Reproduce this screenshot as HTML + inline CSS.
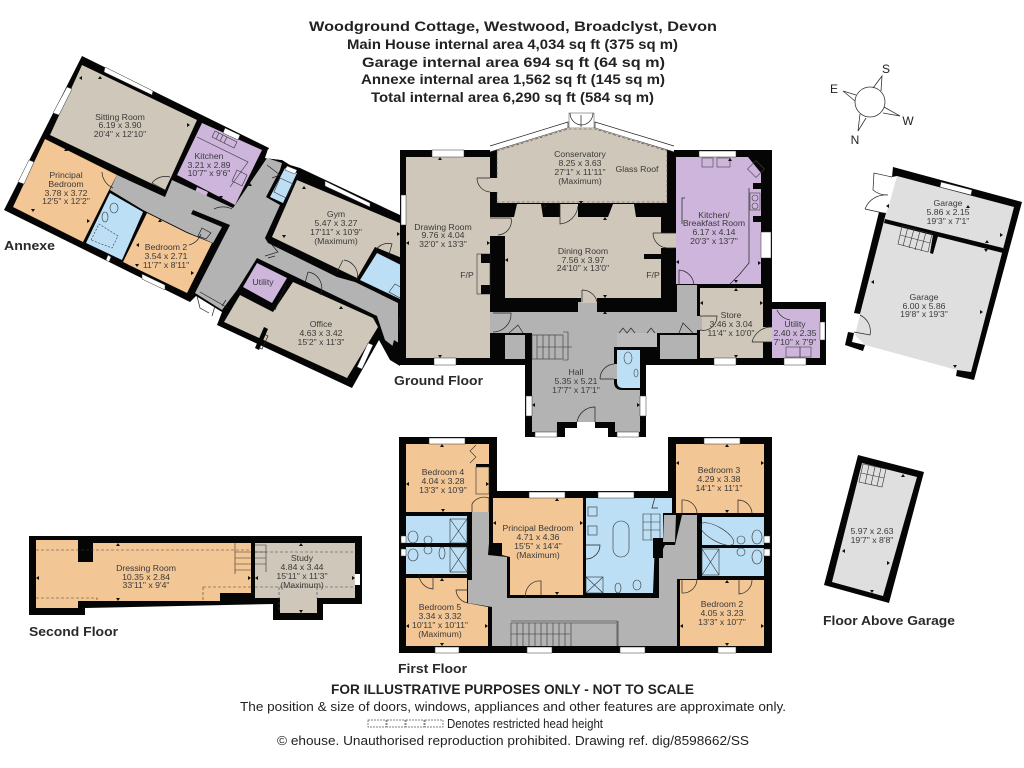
<!DOCTYPE html>
<html><head><meta charset="utf-8"><title>Woodground Cottage floor plan</title>
<style>
html,body{margin:0;padding:0;background:#fff;width:1024px;height:768px;overflow:hidden}
svg{display:block;font-family:"Liberation Sans",sans-serif}
.h{font-weight:bold;font-size:14px;fill:#222}
.l{font-size:13px;fill:#222}
.f{font-weight:bold;font-size:13px;fill:#2a2a2a}
.r text{font-size:8.7px;fill:#3a3a3a;text-anchor:middle}
.d{fill:none;stroke:#222;stroke-width:.7}
.w{fill:#fff;stroke:#333;stroke-width:.5}
.dash{fill:none;stroke:#444;stroke-width:.6;stroke-dasharray:3 2}
.tan{fill:#cfc7b9}.or{fill:#f2c695}.pu{fill:#cdb5dc}.bl{fill:#bcdff5}.gr{fill:#b3b3b3}.ga{fill:#dfdfdf}
</style></head><body>
<svg width="1024" height="768" viewBox="0 0 1024 768" xmlns="http://www.w3.org/2000/svg">
<rect width="1024" height="768" fill="#fff"/>

<!-- headings -->
<text class="h" x="309" y="31" textLength="408" lengthAdjust="spacingAndGlyphs">Woodground Cottage, Westwood, Broadclyst, Devon</text>
<text class="h" x="347" y="49" textLength="331" lengthAdjust="spacingAndGlyphs">Main House internal area 4,034 sq ft (375 sq m)</text>
<text class="h" x="362" y="67" textLength="303" lengthAdjust="spacingAndGlyphs">Garage internal area 694 sq ft (64 sq m)</text>
<text class="h" x="361" y="84" textLength="304" lengthAdjust="spacingAndGlyphs">Annexe internal area 1,562 sq ft (145 sq m)</text>
<text class="h" x="371" y="102" textLength="283" lengthAdjust="spacingAndGlyphs">Total internal area 6,290 sq ft (584 sq m)</text>

<!-- compass -->
<g fill="none" stroke="#333" stroke-width=".8">
<circle cx="870" cy="102" r="15"/>
<path d="M873 88L882 76L881 91M856 95L843 91L855 101M884 107L900 116L883 113M860 114L858 131L866 118"/>
</g>
<g font-size="12" fill="#222" text-anchor="middle"><text x="886" y="73">S</text><text x="834" y="93">E</text><text x="908" y="125">W</text><text x="855" y="144">N</text></g>

<!-- ANNEXE -->
<polygon fill="#050505" points="82,56 269,148 265,158 282,160 290,165 300,168 400,215 400,366 390,360 379,340 352,388 217,325 222,312 196,296 190,302 4,210"/>
<polygon class="tan" points="82,65 197,120 172,175 165,190 50,135"/>
<polygon class="or" points="45,139 117,175 108,192 83,242 13,207"/>
<polygon class="bl" points="110,193 143,212 122,260 86,243"/>
<polygon class="or" points="147,213 187,233 212,243 187,293 123,262"/>
<polygon class="pu" points="202,123 262,150 235,205 177,175"/>
<polygon class="pu" points="197,187 208,192 205,200 194,195"/>
<polygon class="gr" points="117,175 165,197 172,180 233,208 267,158 282,163 280,170 266,197 280,205 265,238 268,243 337,277 355,282 398,303 398,350 385,340 377,316 257,258 237,290 222,310 195,293 230,225 193,210 191,214 222,227 213,243 187,232 143,210 110,190"/>
<polygon fill="#fff" points="268,149 282,160 265,158"/>
<polygon class="bl" points="285,168 297,173 283,203 270,197"/>
<polygon class="tan" points="297,180 402,224 402,258 375,247 357,278 272,237"/>
<polygon class="bl" points="377,253 403,266 402,300 360,280"/>
<polygon class="pu" points="257,263 287,278 272,303 243,287"/>
<polygon class="tan" points="240,295 273,312 293,282 373,318 378,327 347,378 224,322"/>
<g class="w">
<polygon points="105,67 153,91 152,95 104,72"/>
<polygon points="67,87 72,89 59,115 53,113"/>
<polygon points="225,128 240,135 238,140 223,133"/>
<polygon points="29,160 34,162 24,184 18,182"/>
<polygon points="142,274 165,285 165,290 142,279"/>
<polygon points="108,255 111,257 109,262 106,260"/>
<polygon points="325,181 370,203 370,207 325,186"/>
<polygon points="368,343 373,345 362,369 357,367"/>
<polygon points="287,166 297,170 295,174 285,170"/>
<rect x="400" y="318" width="6" height="13"/>
</g>
<path class="d" d="M102 172A18 18 0 0 0 113 188M152 183A17 17 0 0 1 170 177M152 183L165 190M201 234A18 18 0 0 1 189 245M214 209A20 20 0 0 1 232 209M344 260A16 16 0 0 1 357 280M343 260L337 272M308 272A16 16 0 0 1 320 295M308 272L305 283M265 256L278 252L272 245M268 258L275 256M267 165L280 175L272 178M197 296L200 308L209 313M215 306L212 316M202 228L211 233L206 239L198 236ZM200 292L228 308M226 300L222 306"/>
<path class="d" d="M286 284L275 310M262 333L268 336L262 349L256 346M376 250A14 14 0 0 1 392 244L388 258M406 318A14 14 0 0 1 418 331H406"/>
<g fill="none" stroke="#333" stroke-width=".6"><polygon points="91,240 99,224 118,236 112,248" stroke-dasharray="2 1.5"/><ellipse cx="114" cy="208" rx="4" ry="5"/><ellipse cx="105" cy="217" rx="3" ry="5"/><path d="M215 131L237 142L234 148L212 137ZM219 133L216 139M223 135L220 141M227 137L224 143"/><path d="M197 137L248 162L230 187M237 170L247 175L242 186L232 181Z"/><path d="M280 178L293 184L286 198L274 192Z"/><path d="M395 284L402 288L400 298L389 292Z"/></g>
<polygon fill="#050505" points="264,327 268,329 259,350 255,348"/>
<polygon fill="#050505" points="394,340 402,345 398,356 391,352"/>

<!-- GROUND FLOOR main -->
<polygon fill="#050505" points="400,150 490,150 490,146 674,146 674,150 772,150 772,302 826,302 826,365 646,365 646,437 608,437 608,428 565,428 565,437 525,437 525,365 400,365"/>
<rect x="577" y="422" width="18" height="6" fill="#fff"/>
<polygon fill="#fff" points="490,146 497,143 568,120 595,120 668,143 674,146 674,152 668,150 595,128 568,128 497,150 490,152"/>
<polyline class="d" points="490,146 568,122 568,128 490,152"/>
<polyline class="d" points="674,146 595,122 595,128 674,152"/>
<rect x="569" y="113" width="25" height="15" fill="#fff" stroke="#444" stroke-width=".5"/>
<path class="d" d="M570 113A12 12 0 0 0 581 125A12 12 0 0 0 593 113M581 115V127"/>
<polygon class="tan" points="497,150 568,128 595,128 667,150 667,203 497,203"/>
<path class="dash" d="M497 151L568 129H595L667 151V202H497Z"/>
<rect class="tan" x="406" y="157" width="84" height="201"/>
<rect class="tan" x="490" y="178" width="8" height="14"/>
<polygon class="tan" points="505,217 514,217 517,204 541,204 543,217 560,217 560,204 578,204 578,217 608,217 613,204 634,204 636,217 661,217 661,298 505,298"/>
<rect class="tan" x="644" y="259" width="17" height="32"/>
<rect fill="#050505" x="644" y="254" width="17" height="5"/>
<rect class="tan" x="490" y="217" width="16" height="19"/>
<rect class="tan" x="661" y="233" width="15" height="15"/>
<rect x="477" y="254" width="13" height="40" fill="none" stroke="#333" stroke-width=".6"/>
<rect fill="#050505" x="481" y="254" width="9" height="9"/>
<rect fill="#050505" x="481" y="285" width="9" height="9"/>
<polygon class="pu" points="676,157 748,157 761,173 761,284 676,284"/>
<rect class="tan" x="700" y="288" width="63" height="70"/>
<rect class="tan" x="763" y="327" width="9" height="15"/>
<rect class="pu" x="772" y="309" width="48" height="49"/>
<!-- corridor + hall -->
<polygon class="gr" points="490,312 677,312 677,285 697,285 697,333 490,333"/>
<rect class="gr" x="697" y="316" width="5" height="14"/>
<rect class="gr" x="578" y="302" width="19" height="10"/>
<rect class="tan" x="581" y="298" width="16" height="5"/>
<rect class="gr" x="505" y="335" width="20" height="24"/>
<rect class="gr" x="660" y="335" width="37" height="24"/>
<polygon class="gr" points="532,333 640,333 640,432 615,432 615,422 595,422 557,422 557,432 532,432"/>
<rect x="617" y="333" width="40" height="14" fill="#bcbcbc"/>
<path d="M614 347H646V390H622Q614 390 614 382Z" fill="#050505"/>
<path d="M617 350H640V388H623Q617 388 617 382Z" fill="#bcdff5"/>
<rect class="gr" x="614" y="364" width="3" height="15"/>
<rect fill="#050505" x="657" y="333" width="3" height="26"/>
<path class="d" d="M477 178H490M477 178A14 14 0 0 0 490 192M490 218H511A14 14 0 0 1 498 235M560 204V224A20 20 0 0 0 578 206M653 233H676M653 233A15 15 0 0 0 667 248H676M679 270V285M679 270A16 16 0 0 1 694 285M582 290V302M582 290A15 15 0 0 1 597 302M493 313H511A18 18 0 0 1 493 332M509 333L518 325L523 333M619 333L623 328L627 333L631 328L635 333M647 333L651 328L655 333M679 333L683 323L693 333M700 316H717A14 14 0 0 1 700 330M752 342H772M752 342A20 20 0 0 1 772 327M600 379H614M600 379A15 15 0 0 1 614 364M577 422A18 18 0 0 1 595 407V422M685 198H682V224M749 188V263L739 275L730 284M777 310A18 18 0 0 0 790 320"/>
<!-- hall stair -->
<g fill="none" stroke="#333" stroke-width=".6">
<rect x="532" y="335" width="31" height="24"/>
<path d="M537 335V359M543 335V359M549 335V359M555 335V359M563 332H568V360H563M537 347H572"/>
</g>
<g class="w">
<rect x="432" y="150" width="32" height="7"/><rect x="401" y="195" width="5" height="30"/>
<rect x="434" y="358" width="22" height="7"/>
<rect x="699" y="151" width="37" height="6"/><rect x="761" y="232" width="10" height="26"/>
<rect x="714" y="358" width="22" height="7"/><rect x="784" y="358" width="22" height="7"/>
<rect x="820" y="322" width="5" height="18"/><rect x="526" y="396" width="6" height="20"/>
<rect x="640" y="396" width="6" height="20"/><rect x="535" y="432" width="22" height="5"/>
<rect x="617" y="432" width="22" height="5"/>
</g>
<!-- fixtures -->
<g fill="none" stroke="#444" stroke-width=".6">
<rect x="702" y="158" width="11" height="9"/><rect x="717" y="158" width="13" height="9"/>
<rect x="750" y="163" width="12" height="12" transform="rotate(45 756 169)"/><rect x="750" y="193" width="10" height="17"/>
<circle cx="755" cy="198" r="3"/><circle cx="755" cy="206" r="3"/>
<rect x="786" y="347" width="14" height="10"/><rect x="800" y="347" width="11" height="10"/>
<ellipse cx="628" cy="358" rx="4" ry="6"/><ellipse cx="636" cy="373" rx="2" ry="4"/>
</g>
<rect fill="#050505" x="753" y="183" width="8" height="6"/><rect fill="#050505" x="753" y="216" width="8" height="6"/>

<!-- FIRST FLOOR -->
<polygon fill="#050505" points="399,437 497,437 497,491 668,491 668,437 772,437 772,653 399,653"/>
<rect class="or" x="406" y="444" width="83" height="68"/>
<rect fill="#050505" x="476" y="464" width="13" height="3"/>
<rect class="bl" x="406" y="516" width="61" height="27"/>
<rect class="bl" x="406" y="547" width="61" height="27"/>
<polygon class="or" points="406,578 467,578 467,603 488,607 488,646 406,646"/>
<polygon class="gr" points="472,512 489,512 489,543 488,555 507,557 507,598 659,598 659,557 665,545 675,545 682,515 697,515 697,579 677,579 677,646 492,646 492,607 468,603 468,580 472,580"/>
<polygon class="or" points="493,498 583,498 583,595 510,595 510,557 502,555 502,543 493,543"/>
<polygon class="bl" points="586,498 672,498 672,513 663,513 663,542 655,542 653,593 586,593"/>
<rect class="or" x="676" y="444" width="88" height="69"/>
<rect class="or" x="680" y="580" width="84" height="66"/>
<rect class="bl" x="702" y="517" width="62" height="28"/>
<rect class="bl" x="702" y="548" width="62" height="28"/>
<polygon class="gr" points="664,515 676,515 675,542 663,542"/>
<g class="w">
<rect x="429" y="438" width="36" height="6"/><rect x="529" y="492" width="36" height="6"/>
<rect x="598" y="492" width="36" height="6"/><rect x="704" y="438" width="36" height="6"/>
<rect x="435" y="647" width="24" height="6"/><rect x="527" y="647" width="25" height="6"/>
<rect x="620" y="647" width="25" height="6"/><rect x="718" y="647" width="18" height="6"/>
<rect x="401" y="536" width="5" height="7"/><rect x="401" y="549" width="5" height="7"/>
<rect x="764" y="536" width="6" height="7"/><rect x="764" y="549" width="6" height="7"/>
</g>
<g fill="none" stroke="#333" stroke-width=".6">
<rect x="476" y="467" width="13" height="27"/><path d="M476 445L470 451L476 457L470 463"/>
<rect x="450" y="519" width="17" height="24"/><path d="M450 519L467 543M467 519L450 543"/>
<rect x="450" y="547" width="17" height="25"/><path d="M450 547L467 572M467 547L450 572"/>
<rect x="586" y="577" width="17" height="16"/><path d="M586 577L603 593M603 577L586 593"/>
<rect x="702" y="549" width="17" height="26"/><path d="M702 549L719 575M719 549L702 575"/>
<rect x="613" y="521" width="16" height="36" rx="8"/>
<ellipse cx="717" cy="534" rx="19" ry="7" transform="rotate(30 717 534)"/>
<rect x="588" y="507" width="9" height="9"/><rect x="588" y="526" width="9" height="9"/>
<ellipse cx="413" cy="537" rx="5" ry="6"/><ellipse cx="428" cy="540" rx="4" ry="4"/><ellipse cx="413" cy="555" rx="5" ry="6"/><ellipse cx="428" cy="550" rx="4" ry="4"/><ellipse cx="442" cy="553" rx="3" ry="6"/>
<ellipse cx="757" cy="537" rx="5" ry="7"/><ellipse cx="741" cy="540" rx="4" ry="4"/><ellipse cx="757" cy="557" rx="5" ry="7"/><ellipse cx="741" cy="552" rx="4" ry="4"/>
<ellipse cx="618" cy="588" rx="3" ry="5"/><ellipse cx="637" cy="585" rx="4" ry="5"/>
<path d="M643 514H660V540H643ZM643 522H660M643 530H660M651 514V540"/>
<path d="M511 621H616M511 623H616M616 621H617V646M618 621V646"/>
<path d="M511 623V646M517 623V646M523 623V646M529 623V646M535 623V646M541 623V646M547 623V646M553 623V646M559 623V646M565 623V646M571 623V646M511 634H570"/>
</g>
<rect fill="#050505" x="653" y="538" width="10" height="20"/>
<path class="d" d="M472 512V504A14 14 0 0 1 489 498M489 512V498M419 574A15 15 0 0 0 433 589V575M468 603A14 14 0 0 1 456 590H468M526 598A14 14 0 0 1 541 581V596M586 545H600A14 14 0 0 1 586 559M682 515V500A14 14 0 0 1 697 515M738 513V500A14 14 0 0 1 752 513M682 580V593A14 14 0 0 0 697 579M739 580V594A14 14 0 0 0 752 580M655 497L652 508L658 508"/>

<!-- SECOND FLOOR -->
<polygon fill="#050505" points="29,536 362,536 362,604 323,604 323,620 273,620 273,604 85,608 85,615 29,615"/>
<polygon class="or" points="36,540 78,540 78,562 93,562 93,543 251,543 251,593 220,593 220,601 78,601 78,608 36,608"/>
<polygon class="tan" points="255,543 355,543 355,598 317,598 317,613 280,613 280,598 255,598"/>
<rect x="355" y="574" width="5" height="11" fill="#fff"/>
<path class="dash" d="M36 550H251M255 552H355M36 598H97V601M203 587H251M255 587H355M203 587V601M279 587V612M317 587V598"/>
<path d="M235 542V574M235 552H251M235 558H251M235 564H251M235 570H251M255 545H266V572M255 552H266M255 558H266M255 564H266" fill="none" stroke="#333" stroke-width=".6"/>

<!-- GARAGE -->
<polygon class="ga" points="897,176 1014,207 971,372 957,370 865,345 855,335 860,315 885,216 889,205"/>
<polygon fill="#050505" points="893,167 1022,202 974,380 956,376 957,370 971,372 1014,207 897,176 892,177"/>
<polygon fill="#050505" points="879,212 886,213 860,314 854,313"/>
<polygon fill="#050505" points="848,332 854,333 852,342 865,345 863,351 845,345"/>
<polygon fill="#050505" points="885,219 1003,248 1003,253 884,223"/>
<polygon class="w" points="941,182 972,190 971,195 940,187"/>
<polygon fill="#050505" points="933,235 938,236 933,254 930,253"/>
<path class="d" d="M892 177L874 173L873 190A22 22 0 0 0 888 195M865 209A22 22 0 0 1 888 195M865 209L883 213M860 315A18 18 0 0 1 870 335L854 332"/>
<g fill="none" stroke="#333" stroke-width=".6"><path d="M902 226L932 234L928 252L898 244ZM908 227L903 246M914 229L909 248M920 231L915 250M926 232L921 251M900 235L930 243"/></g>

<!-- FLOOR ABOVE GARAGE -->
<polygon fill="#050505" points="858,455 924,472 889,603 824,585"/>
<polygon class="ga" points="862,463 917,477 883,596 832,582"/>
<g fill="none" stroke="#333" stroke-width=".6"><path d="M863 464L886 469L882 487L859 482ZM869 465L865 484M875 467L871 485M881 468L877 486M861 473L884 478"/></g>

<!-- tick marks -->
<path fill="#111" d="M440 157l-2 3h4zM440 358l-2-3h4zM406 243l3-2v4zM490 243l-3-2v4zM581 204l-2-3h4zM545 204l-2 3h4zM605 217l-2 3h4zM505 260l3-2v4zM730 158l-2 3h4zM736 283l-2-3h4zM736 288l-2 3h4zM676 262l3-2v4zM761 263l-3-2v4zM700 303l3-2v4zM763 303l-3-2v4zM736 358l-2-3h4zM605 298l-2-3h4zM605 311l-2 3h4zM532 405l3-2v4zM640 405l-3-2v4zM442 444l-2 3h4zM443 512l-2-3h4zM406 484l3-2v4zM489 484l-3-2v4zM557 498l-2 3h4zM557 595l-2-3h4zM493 523l3-2v4zM583 523l-3-2v4zM727 444l-2 3h4zM727 513l-2-3h4zM676 463l3-2v4zM764 463l-3-2v4zM727 580l-2 3h4zM727 646l-2-3h4zM680 626l3-2v4zM764 626l-3-2v4zM442 578l-2 3h4zM442 646l-2-3h4zM406 626l3-2v4zM488 626l-3-2v4zM118 543l-2 3h4zM118 601l-2-3h4zM36 578l3-2v4zM251 578l-3-2v4zM301 543l-2 3h4zM301 613l-2-3h4zM255 578l3-2v4zM355 578l-3-2v4zM100 76l-2 3h4zM79 78l3-2v4zM190 125l-3-2v4zM66 148l-2 3h4zM33 212l-2-3h4zM90 221l-3-2v4zM160 219l-2 3h4zM136 245l3-2v4zM194 273l-3-2v4zM137 267l-2-3h4zM304 186l-2 3h4zM284 238l-2-3h4zM400 234l-3-2v4zM341 306l-2 3h4zM312 369l-2-3h4zM250 183l-2 3h4zM221 199l-2-3h4zM968 205l-2 3h4zM1003 235l-3-2v4zM886 206l3-2v4zM871 282l3-2v4zM983 312l-3-2v4zM955 368l-2-3h4zM987 240l-2 3h4zM986 252l-2-3h4zM903 474l-2 3h4zM842 551l3-2v4zM890 563l-3-2v4zM872 593l-2-3h4z"/>

<!-- room labels -->
<g class="r">
<text x="120" y="120">Sitting Room</text><text x="120" y="128">6.19 x 3.90</text><text x="120" y="137">20'4" x 12'10"</text>
<text x="66" y="178">Principal</text><text x="66" y="187">Bedroom</text><text x="66" y="196">3.78 x 3.72</text><text x="66" y="204">12'5" x 12'2"</text>
<text x="209" y="159">Kitchen</text><text x="209" y="168">3.21 x 2.89</text><text x="209" y="176">10'7" x 9'6"</text>
<text x="166" y="250">Bedroom 2</text><text x="166" y="259">3.54 x 2.71</text><text x="166" y="268">11'7" x 8'11"</text>
<text x="336" y="217">Gym</text><text x="336" y="226">5.47 x 3.27</text><text x="336" y="235">17'11" x 10'9"</text><text x="336" y="244">(Maximum)</text>
<text x="263" y="285">Utility</text>
<text x="321" y="327">Office</text><text x="321" y="336">4.63 x 3.42</text><text x="321" y="345">15'2" x 11'3"</text>
<text x="580" y="157">Conservatory</text><text x="580" y="166">8.25 x 3.63</text><text x="580" y="175">27'1" x 11'11"</text><text x="580" y="184">(Maximum)</text>
<text x="637" y="172">Glass Roof</text>
<text x="443" y="230">Drawing Room</text><text x="443" y="238">9.76 x 4.04</text><text x="443" y="247">32'0" x 13'3"</text>
<text x="467" y="278">F/P</text><text x="653" y="278">F/P</text>
<text x="583" y="254">Dining Room</text><text x="583" y="263">7.56 x 3.97</text><text x="583" y="271">24'10" x 13'0"</text>
<text x="714" y="218">Kitchen/</text><text x="714" y="226">Breakfast Room</text><text x="714" y="235">6.17 x 4.14</text><text x="714" y="244">20'3" x 13'7"</text>
<text x="731" y="318">Store</text><text x="731" y="327">3.46 x 3.04</text><text x="731" y="336">11'4" x 10'0"</text>
<text x="795" y="327">Utility</text><text x="795" y="336">2.40 x 2.35</text><text x="795" y="345">7'10" x 7'9"</text>
<text x="576" y="375">Hall</text><text x="576" y="384">5.35 x 5.21</text><text x="576" y="393">17'7" x 17'1"</text>
<text x="443" y="475">Bedroom 4</text><text x="443" y="484">4.04 x 3.28</text><text x="443" y="493">13'3" x 10'9"</text>
<text x="719" y="473">Bedroom 3</text><text x="719" y="482">4.29 x 3.38</text><text x="719" y="491">14'1" x 11'1"</text>
<text x="538" y="531">Principal Bedroom</text><text x="538" y="540">4.71 x 4.36</text><text x="538" y="549">15'5" x 14'4"</text><text x="538" y="558">(Maximum)</text>
<text x="440" y="610">Bedroom 5</text><text x="440" y="619">3.34 x 3.32</text><text x="440" y="628">10'11" x 10'11"</text><text x="440" y="637">(Maximum)</text>
<text x="722" y="607">Bedroom 2</text><text x="722" y="616">4.05 x 3.23</text><text x="722" y="625">13'3" x 10'7"</text>
<text x="146" y="571">Dressing Room</text><text x="146" y="580">10.35 x 2.84</text><text x="146" y="588">33'11" x 9'4"</text>
<text x="302" y="561">Study</text><text x="302" y="570">4.84 x 3.44</text><text x="302" y="579">15'11" x 11'3"</text><text x="302" y="588">(Maximum)</text>
<text x="948" y="206">Garage</text><text x="948" y="215">5.86 x 2.15</text><text x="948" y="224">19'3" x 7'1"</text>
<text x="924" y="300">Garage</text><text x="924" y="309">6.00 x 5.86</text><text x="924" y="317">19'8" x 19'3"</text>
<text x="872" y="534">5.97 x 2.63</text><text x="872" y="543">19'7" x 8'8"</text>
</g>

<!-- floor names -->
<text class="f" x="4" y="250" textLength="51" lengthAdjust="spacingAndGlyphs">Annexe</text>
<text class="f" x="394" y="385" textLength="89" lengthAdjust="spacingAndGlyphs">Ground Floor</text>
<text class="f" x="398" y="673" textLength="69" lengthAdjust="spacingAndGlyphs">First Floor</text>
<text class="f" x="29" y="636" textLength="89" lengthAdjust="spacingAndGlyphs">Second Floor</text>
<text class="f" x="823" y="625" textLength="132" lengthAdjust="spacingAndGlyphs">Floor Above Garage</text>

<!-- footer -->
<text class="h" font-size="13" x="331" y="694" textLength="363" lengthAdjust="spacingAndGlyphs">FOR ILLUSTRATIVE PURPOSES ONLY - NOT TO SCALE</text>
<text class="l" x="240" y="711" textLength="546" lengthAdjust="spacingAndGlyphs">The position &amp; size of doors, windows, appliances and other features are approximate only.</text>
<g fill="#fff" stroke="#555" stroke-width=".7" stroke-dasharray="2 1"><rect x="368" y="720" width="18" height="7"/><rect x="387" y="720" width="18" height="7"/><rect x="406" y="720" width="18" height="7"/><rect x="425" y="720" width="18" height="7"/></g>
<text class="l" x="447" y="728" textLength="156" lengthAdjust="spacingAndGlyphs">Denotes restricted head height</text>
<text class="l" x="277" y="745" textLength="472" lengthAdjust="spacingAndGlyphs">© ehouse. Unauthorised reproduction prohibited. Drawing ref. dig/8598662/SS</text>
</svg>
</body></html>
